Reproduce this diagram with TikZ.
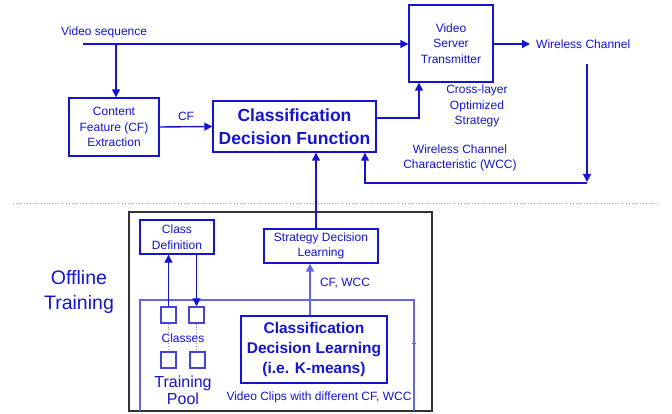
\documentclass[tikz,border=0pt]{standalone}
\usepackage{fontspec}
\setmainfont{Liberation Sans}
\usetikzlibrary{arrows.meta}
\definecolor{dblue}{RGB}{20,20,210}
\definecolor{lblue}{RGB}{100,100,230}
\begin{document}
\begin{tikzpicture}[x=1pt,y=-1pt,
  txt/.style={text=dblue,font=\fontsize{12}{15.5}\selectfont,align=center,inner sep=1pt},
  bx/.style={draw=dblue,line width=1.4pt,text=dblue,align=center,inner sep=0pt,font=\fontsize{12}{15.5}\selectfont},
  sq/.style={draw=dblue!80,line width=1.5pt,minimum width=15pt,minimum height=16pt,inner sep=0pt},
  arr/.style={draw=dblue,line width=1.4pt,-{Triangle[length=8pt,width=8pt]}},
  ln/.style={draw=dblue,line width=1.4pt}]
\useasboundingbox (0,0) rectangle (672,414);
\fill[white] (0,0) rectangle (672,414);

% top part
\node[txt,anchor=west] (vs) at (60,32) {Video sequence};
\coordinate (vsstart) at (83,44);
\coordinate (vsd) at (116,44);
\node[bx,minimum width=90pt,minimum height=58pt] (cfe) at (114,127) {Content\\Feature (CF)\\Extraction};
\node[bx,minimum width=163pt,minimum height=51pt,font=\bfseries\fontsize{17.5}{23}\selectfont] (cdf) at (294.5,126.5) {Classification\\Decision Function};
\node[bx,minimum width=84pt,minimum height=77pt] (vst) at (451,43.5) {Video\\Server\\Transmitter};
\node[txt,anchor=west] (wc) at (535,44) {Wireless Channel};
\node[txt] (cls) at (477,106) {Cross-layer\\Optimized\\Strategy};
\node[txt] (wcc) at (460,158) {Wireless Channel\\Characteristic (WCC)};
\node[txt] (cf) at (186,116) {CF};
\coordinate (wcd) at (587,64);
\coordinate (wcdend) at (587,182);
\coordinate (fb) at (587,183);

\draw[arr] (vsstart) -- (vsstart -| vst.west);
\draw[arr] (vsd) -- (vsd |- cfe.north);
\draw[arr] (cfe.east) -- (cdf.west);
\draw[arr] ([yshift=8.5pt]cdf.east) -| ([xshift=-32pt]vst.south);
\draw[arr,shorten >=5pt] (vst.east |- wc.west) -- (wc.west);
\draw[arr] (wcd) -- (wcdend);
\draw[arr] (fb) -| ([xshift=70.5pt]cdf.south);

% separator
\draw[gray!70,dotted,line width=0.8pt] (13,203) -- (658,203);

% offline training
\node[txt,font=\fontsize{19.5}{25}\selectfont] (ot) at (79,292) {Offline\\Training};
\draw[black!80,line width=1.5pt] (129,212) rectangle (432,411);
\node[bx,minimum width=74pt,minimum height=34pt] (cd) at (177,237) {Class\\Definition};
\node[bx,minimum width=114pt,minimum height=34pt] (sdl) at (321,246) {Strategy Decision\\Learning};
\draw[lblue,line width=2pt] (140,411) -- (140,300) -- (414,300) -- (414,411);
\draw[lblue,line width=1pt] (412,343) -- (416,343);
\node[bx,minimum width=146pt,minimum height=67pt,font=\bfseries\fontsize{15.5}{20}\selectfont] (cdl) at (314,349.5) {Classification\\Decision Learning\\(i.e. K-means)};
\node[sq] (s1) at (168.5,315) {};
\node[sq] (s2) at (196.5,315) {};
\node[sq] (s3) at (168.5,360) {};
\node[sq] (s4) at (197.5,360) {};
\node[txt] (classes) at (183,338) {Classes};
\node[txt,font=\fontsize{16}{17}\selectfont] (tp) at (183,390) {Training\\Pool};
\node[txt] (vc) at (319,397) {Video Clips with different CF, WCC};
\node[txt] (cfw) at (345,283) {CF, WCC};

\draw[arr] ([xshift=-5pt]sdl.north) -- ([xshift=-5pt]sdl.north |- cdf.south);
\draw[arr,draw=lblue] ([xshift=-4pt]cdl.north) -- ([xshift=-4pt]cdl.north |- sdl.south);
\draw[arr] (s1.north) -- (s1.north |- cd.south);
\draw[arr] (s2.north |- cd.south) -- (s2.north);
\draw[dblue!50,dotted,line width=0.8pt] (s1.south) -- (s3.north);
\draw[dblue!50,dotted,line width=0.8pt] (s2.south) -- (s2.south |- s4.north);
\end{tikzpicture}
\end{document}
